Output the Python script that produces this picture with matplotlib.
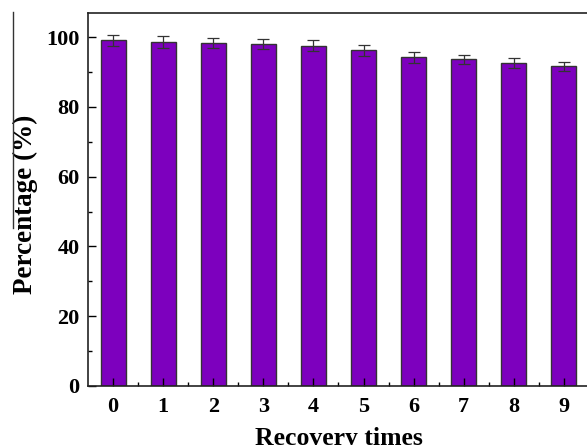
import matplotlib
matplotlib.use('Agg')
import matplotlib.pyplot as plt
from matplotlib.lines import Line2D
from matplotlib.ticker import MultipleLocator
import numpy as np

# recovery cycles and retained percentage
cycles = [0, 1, 2, 3, 4, 5, 6, 7, 8, 9]
percentage = [99.1, 98.6, 98.3, 98.0, 97.5, 96.2, 94.2, 93.6, 92.6, 91.6]
errors = [1.6, 1.6, 1.5, 1.5, 1.6, 1.5, 1.5, 1.4, 1.4, 1.4]

plt.rcParams['font.family'] = ['Liberation Serif', 'DejaVu Serif']
plt.rcParams['font.weight'] = 'bold'

fig = plt.figure(figsize=(5.87, 4.45), dpi=100)
ax = fig.add_axes([0.1499, 0.1326, 0.8535, 0.8389])

x = np.array(cycles)
ax.bar(x, percentage, width=0.5, color='#7D00BE', edgecolor='#333333',
       linewidth=1.0, yerr=errors, capsize=4,
       error_kw=dict(ecolor='#333333', elinewidth=0.9, capthick=0.9))

ax.set_xlim(-0.5, 9.5)
ax.set_ylim(0, 107)
ax.set_xticks(x)
ax.set_xticklabels([str(c) for c in cycles])
ax.set_xticks(x + 0.5, minor=True)
ax.yaxis.set_major_locator(MultipleLocator(20))
ax.yaxis.set_minor_locator(MultipleLocator(10))

ax.tick_params(axis='both', which='major', direction='in', length=6,
               width=1.0, labelsize=16)
ax.tick_params(axis='x', which='major', pad=8)
ax.tick_params(axis='y', which='major', pad=6)
ax.tick_params(axis='both', which='minor', direction='in', length=3,
               width=1.0)
ax.tick_params(axis='x', which='both', top=False)
ax.tick_params(axis='y', which='both', right=False)
for lab in ax.get_xticklabels() + ax.get_yticklabels():
    lab.set_fontweight('bold')

for sp in ax.spines.values():
    sp.set_linewidth(1.2)
    sp.set_color('#222222')

ax.set_xlabel('Recovery times', fontsize=18.5, fontweight='bold', labelpad=7)
ax.set_ylabel('Percentage (%)', fontsize=19.5, fontweight='bold', labelpad=6)
ax.yaxis.set_label_coords(-0.099, 0.4875)

# stray vertical rule at the far left of the original crop
fig.add_artist(Line2D([13 / 587, 13 / 587], [1 - 12 / 445, 1 - 228 / 445],
                      transform=fig.transFigure, color='#333333', lw=1.0))

fig.savefig('out.png', dpi=100)
